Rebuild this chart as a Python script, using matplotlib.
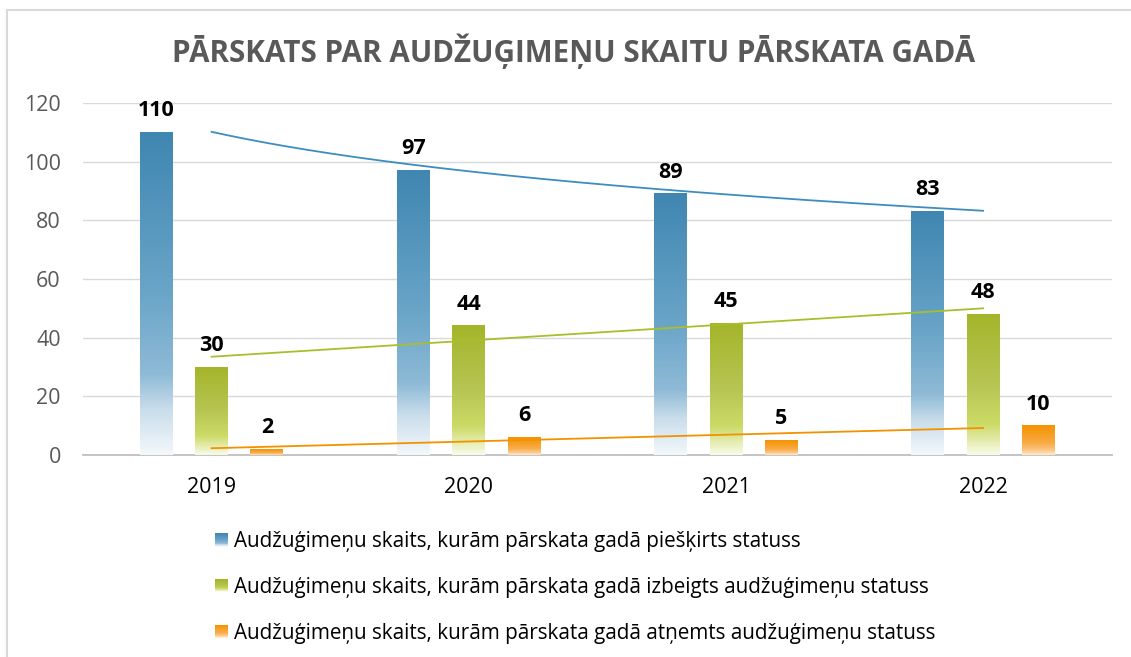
import numpy as np
import matplotlib
matplotlib.use("Agg")
import matplotlib.pyplot as plt
from matplotlib.colors import LinearSegmentedColormap
from matplotlib.legend_handler import HandlerBase
from matplotlib.patches import Rectangle
from matplotlib.lines import Line2D

plt.rcParams['font.family'] = ['Open Sans', 'DejaVu Sans']

years = ['2019', '2020', '2021', '2022']
granted = [110, 97, 89, 83]
ended = [30, 44, 45, 48]
revoked = [2, 6, 5, 10]
labels = [
    'Audžuģimeņu skaits, kurām pārskata gadā piešķirts statuss',
    'Audžuģimeņu skaits, kurām pārskata gadā izbeigts audžuģimeņu statuss',
    'Audžuģimeņu skaits, kurām pārskata gadā atņemts audžuģimeņu statuss',
]
title = 'PĀRSKATS PAR AUDŽUĢIMEŅU SKAITU PĀRSKATA GADĀ'

# gradient colormaps (top -> bottom of each bar)
cm_blue = LinearSegmentedColormap.from_list('b', [(0, '#3F86B1'), (0.5, '#6AA5C8'), (0.75, '#8EBAD6'),
                                                  (0.86, '#C9DDEB'), (1, '#F3F8FB')])
cm_green = LinearSegmentedColormap.from_list('g', [(0, '#A4B52A'), (0.5, '#B7C553'), (0.78, '#CCDA66'),
                                                   (0.88, '#E0E9A2'), (1, '#F9FBEC')])
cm_orange = LinearSegmentedColormap.from_list('o', [(0, '#F59300'), (0.6, '#F8AA45'), (0.85, '#FBC98A'),
                                                    (1, '#FEEBD3')])
trend_colors = ['#3E8DBF', '#A9BE2A', '#F39200']

series = [granted, ended, revoked]
cmaps = [cm_blue, cm_green, cm_orange]
offsets = [-0.215, 0.0, 0.215]
width = 0.128

fig = plt.figure(figsize=(11.31, 6.57), dpi=100)
ax = fig.add_axes([0.0734, 0.3075, 0.9096, 0.5357])

x = np.arange(len(years))
grad = np.linspace(0, 1, 256).reshape(-1, 1)

for vals, cm, off in zip(series, cmaps, offsets):
    for xi, v in zip(x, vals):
        x0 = xi + off - width / 2
        ax.imshow(grad, extent=(x0, x0 + width, 0, v), cmap=cm, aspect='auto',
                  origin='upper', zorder=3, interpolation='bilinear')
        ax.annotate(str(v), (xi + off, v), xytext=(0, 8), textcoords='offset points',
                    ha='center', va='bottom', fontsize=15.5, fontweight='bold', color='black')

# trendlines like Excel: logarithmic for the first, linear for the others
xt = np.linspace(0, 3, 200)
a, b = np.polyfit(np.log(x + 1), granted, 1)
ax.plot(xt, a * np.log(xt + 1) + b, color=trend_colors[0], lw=1.3, zorder=4)
for vals, c in zip([ended, revoked], trend_colors[1:]):
    k, m = np.polyfit(x, vals, 1)
    ax.plot(xt, k * xt + m, color=c, lw=1.3, zorder=4)

ax.set_xlim(-0.5, 3.5)
ax.set_ylim(0, 120)
ax.set_yticks(range(0, 121, 20))
ax.set_xticks(x)
ax.set_xticklabels(years)
ax.grid(axis='y', color='#D9D9D9', lw=1.0, zorder=0)
ax.set_axisbelow(True)
for s in ['top', 'right', 'left']:
    ax.spines[s].set_visible(False)
ax.spines['bottom'].set_color('#BFBFBF')
ax.spines['bottom'].set_linewidth(1.3)
ax.tick_params(axis='y', length=0, pad=16, labelsize=15.5, labelcolor='#595959')
ax.tick_params(axis='x', length=0, pad=16, labelsize=15.5, labelcolor='black')

fig.text(0.507, 1 - 51 / 657, title, ha='center', va='center', fontsize=21.3,
         fontweight='bold', color='#595959')


class GradHandler(HandlerBase):
    def __init__(self, cm):
        super().__init__()
        self.cm = cm

    def create_artists(self, legend, orig_handle, xdescent, ydescent, width, height, fontsize, trans):
        n = 14
        arts = []
        for i in range(n):
            y = -ydescent + height * (1 - (i + 1) / n)
            r = Rectangle((-xdescent, y), width, height / n, facecolor=self.cm(i / (n - 1)),
                          edgecolor='none', transform=trans)
            arts.append(r)
        return arts


handles = [Rectangle((0, 0), 1, 1) for _ in cmaps]
fig.legend(handles, labels, handler_map={h: GradHandler(c) for h, c in zip(handles, cmaps)},
           loc='upper left', bbox_to_anchor=(0.19, 1 - 531 / 657), frameon=False,
           fontsize=14.9, handlelength=0.64, handleheight=0.64, handletextpad=0.3,
           labelspacing=1.2, borderpad=0, borderaxespad=0)

# chart frame (top and left edges visible)
fig.add_artist(Line2D([7 / 1131, 1], [1 - 10 / 657, 1 - 10 / 657], color='#D9D9D9', lw=1.5))
fig.add_artist(Line2D([7 / 1131, 7 / 1131], [0, 1 - 10 / 657], color='#D9D9D9', lw=1.5))

fig.savefig('out.png', dpi=100)
